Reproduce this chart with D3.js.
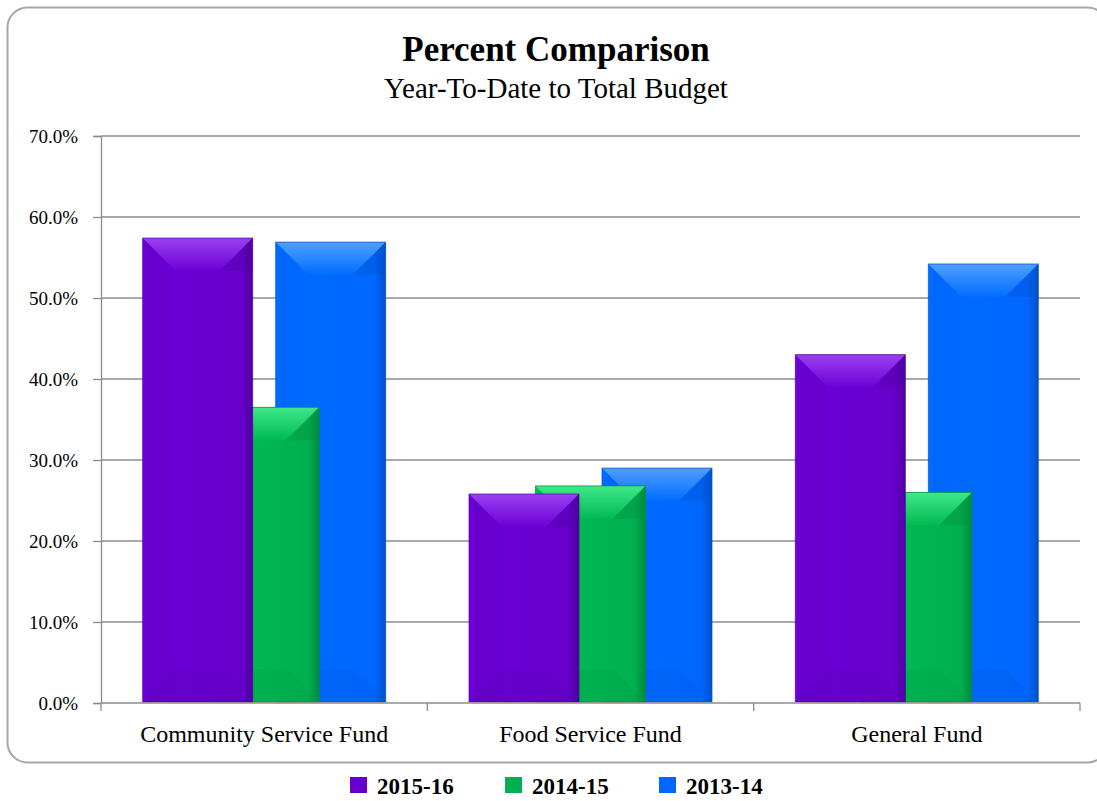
<!DOCTYPE html>
<html>
<head>
<meta charset="utf-8">
<script src="https://cdn.jsdelivr.net/npm/d3@7"></script>
<style>
  body { margin: 0; background: #fff; }
</style>
</head>
<body>
<div id="wrapper"></div>
<script>
const categories = ["Community Service Fund", "Food Service Fund", "General Fund"];
const seriesNames = ["2015-16", "2014-15", "2013-14"];
const values2015 = [57.4, 25.8, 43.0];
const values2014 = [36.5, 26.8, 26.0];
const values2013 = [56.9, 29.0, 54.2];
const yTicks = [0, 10, 20, 30, 40, 50, 60, 70];

const colors = {
  "2015-16": { base: "#6600cc", light: "#9a40f0", dark: "#4f009e" },
  "2014-15": { base: "#00b050", light: "#3fe888", dark: "#008a3e" },
  "2013-14": { base: "#0066ff", light: "#50a0ff", dark: "#0050c8" },
};

const serif = "'Liberation Serif', 'Times New Roman', serif";

function drawChart() {
  const dimensions = {
    width: 1097,
    height: 801,
    margin: { top: 136, right: 17, bottom: 98, left: 101 },
  };
  dimensions.boundedWidth = dimensions.width - dimensions.margin.left - dimensions.margin.right;
  dimensions.boundedHeight = dimensions.height - dimensions.margin.top - dimensions.margin.bottom;

  const svg = d3.select("#wrapper")
    .append("svg")
      .attr("width", dimensions.width)
      .attr("height", dimensions.height)
      .attr("font-family", serif);

  // outer frame
  svg.append("rect")
    .attr("x", 7.5).attr("y", 7.5)
    .attr("width", 1100).attr("height", 755)
    .attr("rx", 20)
    .attr("fill", "none")
    .attr("stroke", "#a6a6a6")
    .attr("stroke-width", 2);

  svg.append("text")
    .attr("x", 556).attr("y", 61)
    .attr("text-anchor", "middle")
    .attr("font-size", 35)
    .attr("font-weight", "bold")
    .text("Percent Comparison");

  svg.append("text")
    .attr("x", 556).attr("y", 98)
    .attr("text-anchor", "middle")
    .attr("font-size", 29)
    .text("Year-To-Date to Total Budget");

  const bounds = svg.append("g")
    .attr("transform", `translate(${dimensions.margin.left}, ${dimensions.margin.top})`);

  const xScale = d3.scaleBand()
    .domain(categories)
    .range([0, dimensions.boundedWidth]);

  const yScale = d3.scaleLinear()
    .domain([0, 70])
    .range([dimensions.boundedHeight, 0]);

  const offsetScale = d3.scalePoint()
    .domain(seriesNames)
    .range([-66.5, 66.5]);
  const barWidth = 110;

  // gridlines
  bounds.append("g")
    .selectAll("line")
    .data(yTicks.filter(d => d > 0))
    .join("line")
      .attr("x1", 0)
      .attr("x2", dimensions.boundedWidth)
      .attr("y1", d => yScale(d))
      .attr("y2", d => yScale(d))
      .attr("stroke", "#8c8c8c")
      .attr("stroke-width", 1.3);

  // gradients
  const defs = svg.append("defs");
  seriesNames.forEach((s, i) => {
    const c = colors[s];
    const body = defs.append("linearGradient").attr("id", "body" + i)
      .attr("x1", "0").attr("x2", "1").attr("y1", "0").attr("y2", "0");
    body.append("stop").attr("offset", "0").attr("stop-color", d3.color(c.base).brighter(0.25));
    body.append("stop").attr("offset", "0.06").attr("stop-color", c.base);
    body.append("stop").attr("offset", "0.35").attr("stop-color", d3.color(c.base).brighter(0.12));
    body.append("stop").attr("offset", "0.9").attr("stop-color", c.base);
    body.append("stop").attr("offset", "1").attr("stop-color", c.dark);
    const top = defs.append("linearGradient").attr("id", "top" + i)
      .attr("x1", "0").attr("x2", "0").attr("y1", "0").attr("y2", "1");
    top.append("stop").attr("offset", "0").attr("stop-color", c.light);
    top.append("stop").attr("offset", "1").attr("stop-color", d3.color(c.base).brighter(0.15));
  });

  const valuesBySeries = [values2015, values2014, values2013];
  const bars = [];
  seriesNames.forEach((s, i) => {
    categories.forEach((cat, j) => {
      bars.push({ series: s, si: i, category: cat, value: valuesBySeries[i][j] });
    });
  });

  // back to front: 2013-14 first, 2015-16 on top
  const barGroups = bounds.append("g")
    .selectAll("g")
    .data(bars.slice().sort((a, b) => b.si - a.si))
    .join("g")
      .attr("transform", d => {
        const x = xScale(d.category) + xScale.bandwidth() / 2 + offsetScale(d.series) - barWidth / 2;
        return `translate(${x}, ${yScale(d.value)})`;
      });

  barGroups.each(function (d) {
    const g = d3.select(this);
    const w = barWidth;
    const h = yScale(0) - yScale(d.value) - 1;
    const bv = Math.min(33, h / 2);
    const c = colors[d.series];
    g.append("rect")
      .attr("width", w).attr("height", h)
      .attr("fill", `url(#body${d.si})`);
    // top bevel
    g.append("path")
      .attr("d", `M0,0 L${w},0 L${w - bv},${bv} L${bv},${bv} Z`)
      .attr("fill", `url(#top${d.si})`);
    // darker right corner of top bevel
    g.append("path")
      .attr("d", `M${w},0 L${w - bv},${bv} L${w},${bv} Z`)
      .attr("fill", c.dark)
      .attr("opacity", 0.3);
    // bottom bevel
    g.append("path")
      .attr("d", `M0,${h} L${w},${h} L${w - bv},${h - bv} L${bv},${h - bv} Z`)
      .attr("fill", c.dark)
      .attr("opacity", 0.15);
    g.append("rect")
      .attr("width", w).attr("height", h)
      .attr("fill", "none")
      .attr("stroke", c.dark)
      .attr("stroke-opacity", 0.7)
      .attr("stroke-width", 1);
  });

  // axes
  const yAxisGenerator = d3.axisLeft(yScale)
    .tickValues(yTicks)
    .tickSize(8)
    .tickPadding(15)
    .tickFormat(d => d.toFixed(1) + "%");

  const yAxis = bounds.append("g")
    .call(yAxisGenerator)
    .attr("font-family", serif)
    .attr("font-size", 19);
  yAxis.select(".domain").attr("stroke", "#8c8c8c").attr("stroke-width", 1.3);
  yAxis.selectAll(".tick line").attr("stroke", "#8c8c8c").attr("stroke-width", 1.3);
  yAxis.selectAll(".tick text").attr("fill", "#000");

  const xAxis = bounds.append("g")
    .attr("transform", `translate(0, ${dimensions.boundedHeight})`);
  xAxis.append("line")
    .attr("x1", 0).attr("x2", dimensions.boundedWidth)
    .attr("stroke", "#8c8c8c").attr("stroke-width", 1.3);
  xAxis.selectAll(".sep")
    .data(d3.range(categories.length + 1))
    .join("line")
      .attr("class", "sep")
      .attr("x1", i => i * xScale.step())
      .attr("x2", i => i * xScale.step())
      .attr("y1", 0).attr("y2", 8)
      .attr("stroke", "#8c8c8c").attr("stroke-width", 1.3);
  xAxis.selectAll(".cat")
    .data(categories)
    .join("text")
      .attr("class", "cat")
      .attr("x", d => xScale(d) + xScale.bandwidth() / 2)
      .attr("y", 39)
      .attr("text-anchor", "middle")
      .attr("font-size", 24)
      .text(d => d);

  // legend
  const legendX = [350, 505, 659];
  const legend = svg.append("g")
    .selectAll("g")
    .data(seriesNames)
    .join("g")
      .attr("transform", (d, i) => `translate(${legendX[i]}, 777)`);
  legend.append("rect")
    .attr("width", 17).attr("height", 16)
    .attr("fill", d => colors[d].base);
  legend.append("text")
    .attr("x", 27).attr("y", 17)
    .attr("font-size", 23)
    .attr("font-weight", "bold")
    .text(d => d);
}

drawChart();
</script>
</body>
</html>
